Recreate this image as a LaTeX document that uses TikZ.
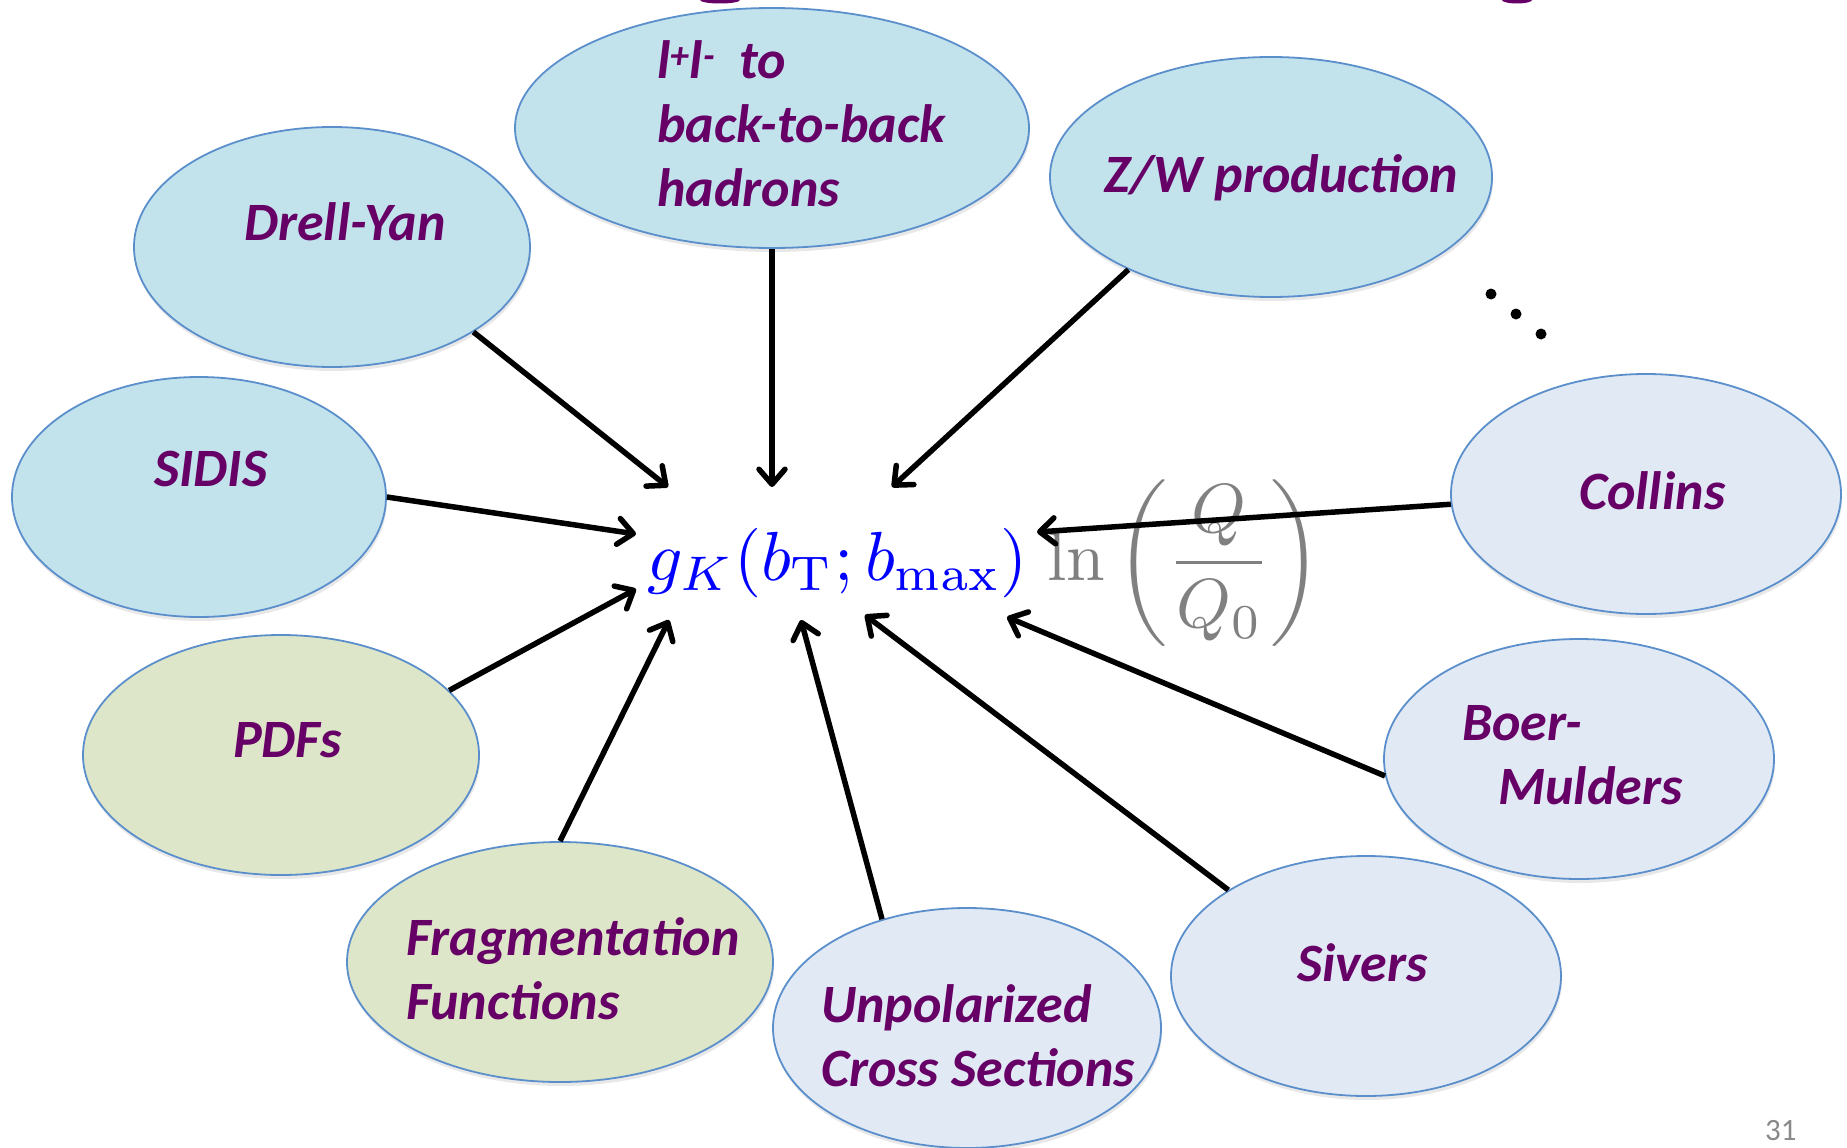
\documentclass[tikz,border=0pt]{standalone}
\usepackage[no-math]{fontspec}
\setmainfont{Carlito}
\usetikzlibrary{shapes.geometric,arrows.meta,shadows}
\definecolor{lblue}{RGB}{194,226,236}
\definecolor{lgreen}{RGB}{221,230,200}
\definecolor{lgrey}{RGB}{225,233,244}
\definecolor{edgeblue}{RGB}{91,143,204}
\definecolor{txtpurple}{RGB}{102,0,102}
\definecolor{eqgray}{RGB}{128,128,128}
\definecolor{pggray}{RGB}{137,137,137}
\begin{document}
\begin{tikzpicture}[x=1pt,y=-1pt,
  oval/.style={ellipse, draw=edgeblue, line width=1.8pt, inner sep=0pt, minimum height=240pt,
    drop shadow={shadow xshift=1pt,shadow yshift=-4pt,opacity=0.18}},
  blueoval/.style={oval, fill=lblue},
  greenoval/.style={oval, fill=lgreen},
  greyoval/.style={oval, fill=lgrey},
  lbl/.style={anchor=base west, inner sep=0pt, text=txtpurple,
    font=\fontsize{54}{64}\selectfont\bfseries\itshape},
  arr/.style={line width=5.5pt, -{Straight Barb[length=15pt,width=26pt,round]}}
]
\useasboundingbox (0,0) rectangle (1847,1148);

% cut-off title descenders
\fill[txtpurple] (720,0) ellipse (20pt and 3.5pt);
\fill[txtpurple] (1517,0) ellipse (15pt and 3.5pt);

% ellipses
\node[blueoval, minimum width=396pt] (dy) at (332,247) {};
\node[blueoval, minimum width=514pt] (ll) at (772,128) {};
\node[blueoval, minimum width=442pt] (zw) at (1271,177) {};
\node[blueoval, minimum width=374pt] (sidis) at (199,497) {};
\node[greenoval, minimum width=396pt] (pdf) at (281,755) {};
\node[greenoval, minimum width=426pt] (ff) at (560,962) {};
\node[greyoval, minimum width=388pt] (up) at (967,1028) {};
\node[greyoval, minimum width=390pt] (siv) at (1366,976) {};
\node[greyoval, minimum width=390pt] (bm) at (1579,759) {};
\node[greyoval, minimum width=390pt] (col) at (1646,494) {};

% labels
\node[lbl] (dyT) at (244,240) {Drell-Yan};
\node[lbl] (llA) at (657,78) {l\textsuperscript{+}l\textsuperscript{-}\hspace{0.45em}to};
\node[lbl] (llB) at (657,142) {back-to-back};
\node[lbl] (llC) at (657,206) {hadrons};
\node[lbl] (zwT) at (1104,192) {Z/W production};
\node[lbl] (sidisT) at (154,486) {SIDIS};
\node[lbl] (colT) at (1579,509) {Collins};
\node[lbl] (pdfT) at (233,757) {PDFs};
\node[lbl] (ffA) at (406,955) {Fragmentation};
\node[lbl] (ffB) at (406,1019) {Functions};
\node[lbl] (upA) at (821,1022) {Unpolarized};
\node[lbl] (upB) at (821,1086) {Cross Sections};
\node[lbl] (sivT) at (1297,981) {Sivers};
\node[lbl] (bmA) at (1462,740) {Boer-};
\node[lbl] (bmB) at (1498,804) {Mulders};

% central formula
\node[anchor=base west, inner sep=0pt, scale=6.95, font=\fontsize{10}{12}\selectfont] (eq) at (646,580)
  {$\textcolor{blue}{g_K(b_{\mathrm{T}};b_{\max})}\;\textcolor{eqgray}{\displaystyle\ln\left(\frac{Q}{Q_0}\right)}$};

% dots
\fill (1491,294) circle (5.5pt);
\fill (1516,314) circle (5.5pt);
\fill (1541,334) circle (5.5pt);

% page number
\node[anchor=base west, inner sep=0pt, text=pggray, font=\fontsize{31}{31}\selectfont] (pg) at (1765,1140) {31};

% arrow targets
\coordinate (tDY) at (668,487);
\coordinate (tLL) at (772,487);
\coordinate (tZW) at (892,487);
\coordinate (tSI) at (636,534);
\coordinate (tCO) at (1037,532);
\coordinate (tPD) at (636,589);
\coordinate (tFF) at (669,620);
\coordinate (tUP) at (801,620);
\coordinate (tSV) at (865,615);
\coordinate (tBM) at (1007,617);

% arrows
\draw[arr] (dy.-31.6) -- (tDY);
\draw[arr] (ll.-90) -- (tLL);
\draw[arr] (zw.-147.2) -- (tZW);
\draw[arr] (sidis.0) -- (tSI);
\draw[arr] (col.-177) -- (tCO);
\draw[arr] (pdf.21.3) -- (tPD);
\draw[arr] (ff.90) -- (tFF);
\draw[arr] (up.128.2) -- (tUP);
\draw[arr] (siv.148.5) -- (tSV);
\draw[arr] (bm.-175.6) -- (tBM);
\end{tikzpicture}
\end{document}
